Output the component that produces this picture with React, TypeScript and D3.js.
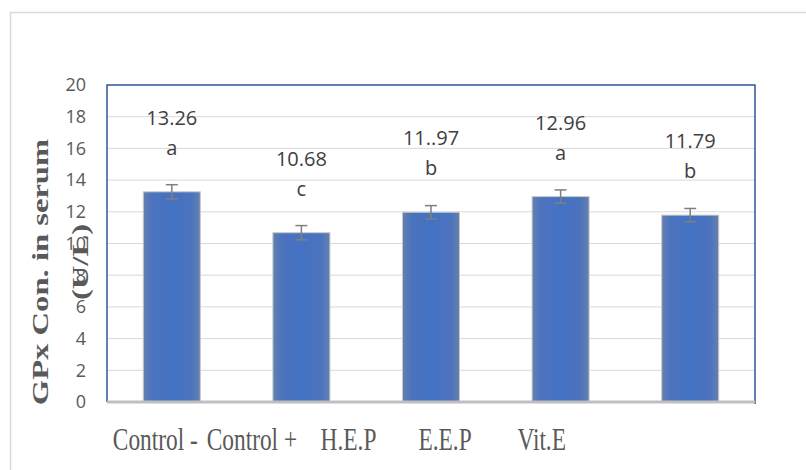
import React, { useEffect, useRef } from 'react';
import * as d3 from 'd3';

const categories = ['Control -', 'Control +', 'H.E.P', 'E.E.P', 'Vit.E'];
const values = [13.26, 10.68, 11.97, 12.96, 11.79];
const errors = [0.45, 0.45, 0.42, 0.42, 0.42];
const valueLabels = ['13.26', '10.68', '11..97', '12.96', '11.79'];
const letters = ['a', 'c', 'b', 'a', 'b'];
const yTicks = [0, 2, 4, 6, 8, 10, 12, 14, 16, 18, 20];

const App: React.FC = () => {
    const ref = useRef<SVGSVGElement>(null);

    useEffect(() => {
        const svg = d3.select(ref.current);
        svg.selectAll('*').remove();

        const left = 107, right = 755, top = 85, bottom = 402;

        const x = d3.scaleBand().domain(categories).range([left, right]).paddingInner(0.56).paddingOuter(0.28);
        // category labels in the source are squeezed sideways, so they sit on a narrower band
        const xLab = d3.scaleBand().domain(categories).range([left, 590]);
        const y = d3.scaleLinear().domain([0, 20]).range([bottom, top]);

        const defs = svg.append('defs');
        const grad = defs.append('linearGradient').attr('id', 'barGrad').attr('x1', '0').attr('x2', '1');
        grad.append('stop').attr('offset', '0%').attr('stop-color', '#6681b0');
        grad.append('stop').attr('offset', '15%').attr('stop-color', '#4c73bd');
        grad.append('stop').attr('offset', '50%').attr('stop-color', '#4472c4');
        grad.append('stop').attr('offset', '85%').attr('stop-color', '#4c73bd');
        grad.append('stop').attr('offset', '100%').attr('stop-color', '#6681b0');

        // outer chart frame
        svg.append('rect')
            .attr('x', 10.5).attr('y', 12.5).attr('width', 820).attr('height', 480)
            .attr('fill', 'none').attr('stroke', '#d9d9d9').attr('stroke-width', 1.5);

        // gridlines
        svg.append('g').selectAll('line')
            .data(yTicks.filter(t => t > 0 && t < 20))
            .enter().append('line')
            .attr('x1', left).attr('x2', right)
            .attr('y1', d => y(d)).attr('y2', d => y(d))
            .attr('stroke', '#d9d9d9').attr('stroke-width', 1);

        // plot border (left, top, right)
        svg.append('path')
            .attr('d', `M${left},${bottom}V${top}H${right}V${bottom + 2}`)
            .attr('fill', 'none').attr('stroke', '#2f5597').attr('stroke-width', 1.5);

        // bars
        svg.append('g').selectAll('rect')
            .data(values)
            .enter().append('rect')
            .attr('x', (d, i) => x(categories[i])!)
            .attr('width', x.bandwidth())
            .attr('y', d => y(d))
            .attr('height', d => bottom - y(d))
            .attr('fill', 'url(#barGrad)')
            .attr('stroke', '#c8c8c8').attr('stroke-width', 1);

        // error bars
        const eb = svg.append('g').attr('stroke', '#7f7f7f').attr('stroke-width', 1.5);
        values.forEach((v, i) => {
            const cx = x(categories[i])! + x.bandwidth() / 2;
            const hi = y(v + errors[i]), lo = y(v - errors[i]);
            eb.append('line').attr('x1', cx).attr('x2', cx).attr('y1', hi).attr('y2', lo);
            eb.append('line').attr('x1', cx - 6).attr('x2', cx + 6).attr('y1', hi).attr('y2', hi);
            eb.append('line').attr('x1', cx - 6).attr('x2', cx + 6).attr('y1', lo).attr('y2', lo);
        });

        // bottom axis line
        svg.append('line')
            .attr('x1', left).attr('x2', right)
            .attr('y1', bottom).attr('y2', bottom)
            .attr('stroke', '#bfbfbf').attr('stroke-width', 3);

        // value + letter labels
        const lab = svg.append('g')
            .attr('font-family', '"Open Sans", sans-serif').attr('font-size', 20)
            .attr('fill', '#404040').attr('text-anchor', 'middle');
        values.forEach((v, i) => {
            const cx = x(categories[i])! + x.bandwidth() / 2;
            lab.append('text').attr('x', cx).attr('y', y(v) - 74).attr('dy', '0.35em').text(valueLabels[i]);
            lab.append('text').attr('x', cx).attr('y', y(v) - 44).attr('dy', '0.35em').text(letters[i]);
        });

        // y tick labels
        svg.append('g')
            .attr('font-family', '"Open Sans", sans-serif').attr('font-size', 18)
            .attr('fill', '#595959').attr('text-anchor', 'end')
            .selectAll('text')
            .data(yTicks)
            .enter().append('text')
            .attr('x', 86).attr('y', d => y(d)).attr('dy', '0.35em')
            .text(d => d);

        // x category labels
        svg.append('g')
            .attr('font-family', '"Liberation Serif", "Times New Roman", serif').attr('font-size', 32)
            .attr('fill', '#595959').attr('text-anchor', 'middle')
            .selectAll('text')
            .data(categories)
            .enter().append('text')
            .attr('transform', d => `translate(${xLab(d)! + xLab.bandwidth() / 2},450) scale(0.73,1)`)
            .text(d => d);

        // y axis title
        const yt = svg.append('g')
            .attr('font-family', '"Liberation Serif", "Times New Roman", serif').attr('font-size', 24)
            .attr('font-weight', 'bold').attr('fill', '#595959').attr('text-anchor', 'middle');
        yt.append('text').attr('transform', 'translate(48,272) rotate(-90) scale(1.36,1)').text('GPx  Con. in serum');
        yt.append('text').attr('transform', 'translate(88,262) rotate(-90) scale(1.36,1)').text('(U/L)');
    }, []);

    return (
        <svg ref={ref} width={806} height={470} style={{ position: 'absolute', left: 0, top: 0, background: '#fff' }} />
    );
};

export default App;
